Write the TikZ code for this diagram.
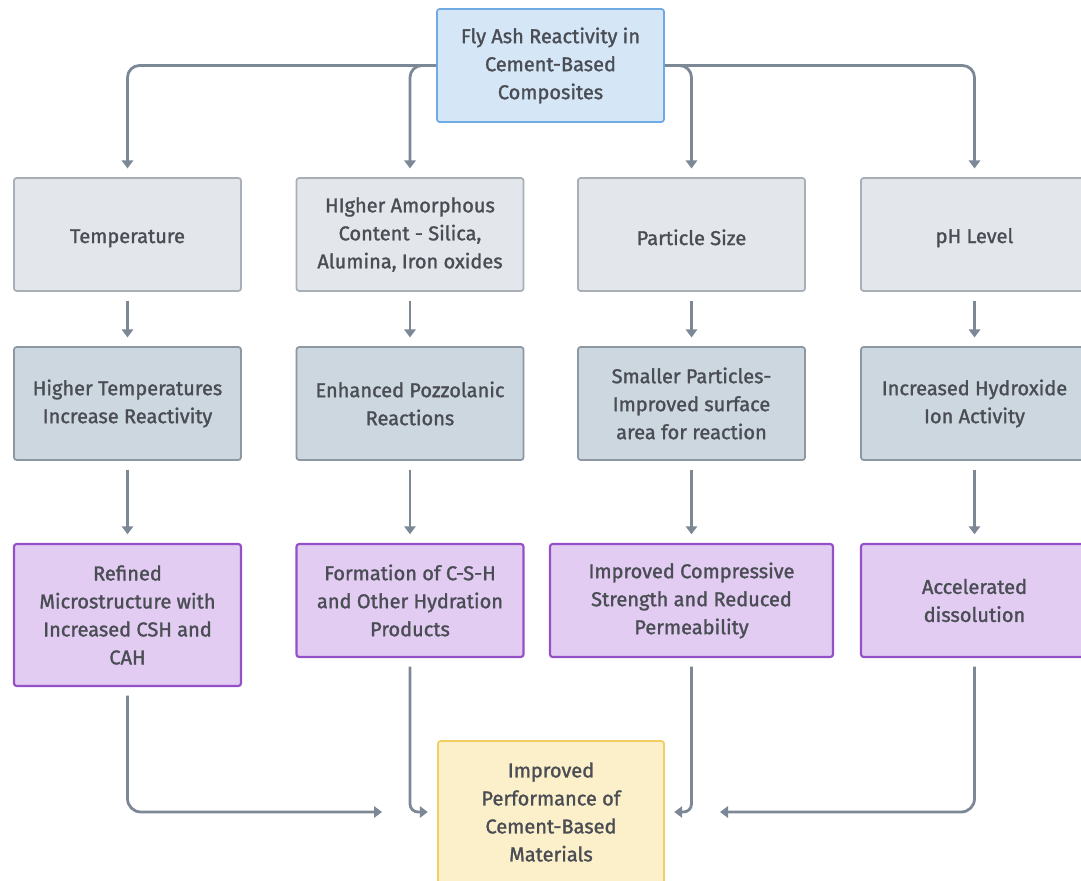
\documentclass[tikz,border=0pt]{standalone}
\usepackage{fontspec}
\setmainfont{Fira Sans}[FakeBold=1.4]
\usetikzlibrary{arrows.meta}
\definecolor{txt}{HTML}{4A4D54}
\definecolor{arrowgray}{HTML}{7D8896}
\definecolor{topfill}{HTML}{D5E6F7}
\definecolor{topdraw}{HTML}{6FAAE6}
\definecolor{r1fill}{HTML}{E3E7EC}
\definecolor{r1draw}{HTML}{A8AFB7}
\definecolor{r2fill}{HTML}{CDD7E0}
\definecolor{r2draw}{HTML}{8C97A2}
\definecolor{r3fill}{HTML}{E2CCF2}
\definecolor{r3draw}{HTML}{9450C6}
\definecolor{botfill}{HTML}{FCF0CB}
\definecolor{botdraw}{HTML}{F2CE62}
\begin{document}
\begin{tikzpicture}[x=0.75pt,y=-0.75pt,
  basebox/.style={draw, rounded corners=2pt, line width=1.3pt, inner sep=0pt,
    align=center, text=txt, font=\fontsize{15}{21}\selectfont,
    execute at begin node={\rule{0pt}{16pt}},
    minimum width=170.25pt, minimum height=84.75pt},
  topbox/.style={basebox, fill=topfill, draw=topdraw},
  factorbox/.style={basebox, fill=r1fill, draw=r1draw},
  effectbox/.style={basebox, fill=r2fill, draw=r2draw},
  outcomebox/.style={basebox, fill=r3fill, draw=r3draw, line width=1.6pt},
  finalbox/.style={basebox, fill=botfill, draw=botdraw, minimum width=169.5pt, minimum height=106.5pt},
  arr/.style={draw=arrowgray, line width=2.1pt, -{Triangle[width=8.5pt,length=6pt]}},
]
\useasboundingbox (0,0) rectangle (1081,881);
\fill[white] (0,0) rectangle (1081,881);

% top
\node[topbox] (top) at (550.5,65.5) {Fly Ash Reactivity in\\Cement-Based\\Composites};

% row 1
\node[factorbox] (f1) at (127.5,234.5) {Temperature};
\node[factorbox] (f2) at (410,234.5) {HIgher Amorphous\\Content - Silica,\\Alumina, Iron oxides};
\node[factorbox] (f3) at (691.5,234.5) {Particle Size};
\node[factorbox] (f4) at (974.5,234.5) {pH Level};

% row 2
\node[effectbox] (e1) at (127.5,403.5) {Higher Temperatures\\Increase Reactivity};
\node[effectbox] (e2) at (410,403.5) {Enhanced Pozzolanic\\Reactions};
\node[effectbox] (e3) at (691.5,403.5) {Smaller Particles-\\Improved surface\\area for reaction};
\node[effectbox] (e4) at (974.5,403.5) {Increased Hydroxide\\Ion Activity};

% row 3
\node[outcomebox, minimum height=106.5pt] (o1) at (127.5,615) {Refined\\Microstructure with\\Increased CSH and\\CAH};
\node[outcomebox] (o2) at (410,600.5) {Formation of C-S-H\\and Other Hydration\\Products};
\node[outcomebox, minimum width=212.25pt] (o3) at (691.5,600.5) {Improved Compressive\\Strength and Reduced\\Permeability};
\node[outcomebox] (o4) at (974.5,600.5) {Accelerated\\dissolution};

% bottom
\node[finalbox] (fin) at (551,812) {Improved\\Performance of\\Cement-Based\\Materials};

\coordinate (c1end) at (382,812);
\coordinate (c4end) at (720,812);

% top connectors
\draw[arr, rounded corners=9pt, shorten >=6.5pt] (top.west) -| (f1.north);
\draw[arr, rounded corners=9pt, shorten >=6.5pt] (top.west) -| (f2.north);
\draw[arr, rounded corners=9pt, shorten >=6.5pt] (top.east) -| (f3.north);
\draw[arr, rounded corners=9pt, shorten >=6.5pt] (top.east) -| (f4.north);

% row1 -> row2, row2 -> row3
\foreach \a/\b in {f1/e1,f2/e2,f3/e3,f4/e4,e1/o1,e2/o2,e3/o3,e4/o4}{
  \draw[arr, shorten <=6.5pt, shorten >=6.5pt] (\a.south) -- (\b.north);
}

% row3 -> final
\draw[arr, rounded corners=10pt, shorten <=6.5pt] (o1.south) |- (c1end);
\draw[arr, rounded corners=6pt, shorten <=6.5pt, shorten >=7pt] (o2.south) |- (fin.west);
\draw[arr, rounded corners=6pt, shorten <=6.5pt, shorten >=7pt] (o3.south) |- (fin.east);
\draw[arr, rounded corners=10pt, shorten <=6.5pt] (o4.south) |- (c4end);
\end{tikzpicture}
\end{document}
